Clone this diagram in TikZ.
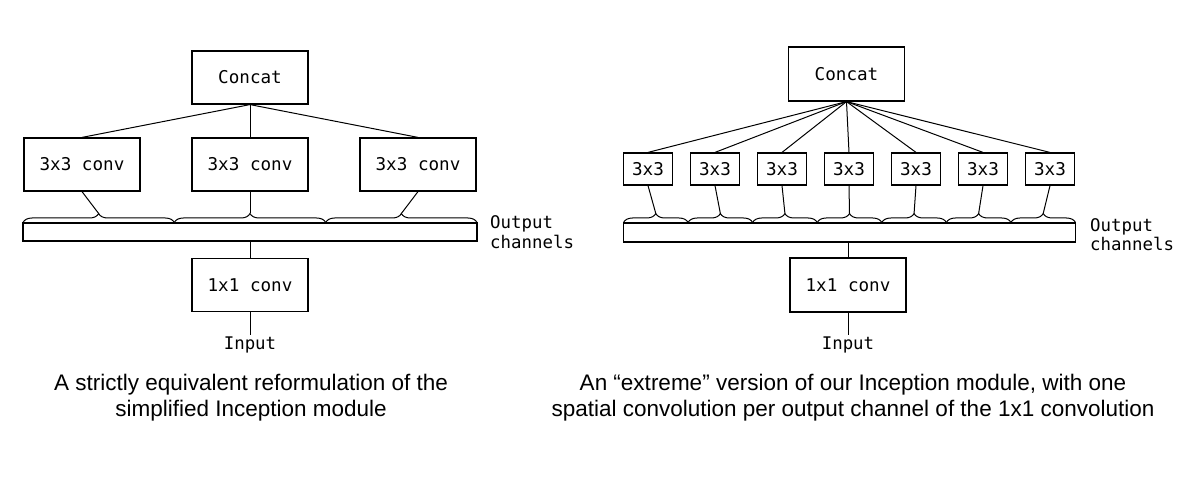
\documentclass[tikz,border=0pt]{standalone}
\usepackage{fontspec}
\setmainfont{Liberation Sans}
\setmonofont{DejaVu Sans Mono}
\usetikzlibrary{positioning,calc,decorations.pathreplacing}

\tikzset{
  box/.style={draw, line width=1.2pt, minimum width=116pt, minimum height=53pt,
    inner sep=0pt, font=\ttfamily\fontsize{17.6}{20}\selectfont},
  smallbox/.style={box, minimum width=49pt, minimum height=32pt},
  bar/.style={draw, line width=1.2pt, minimum height=18pt, inner sep=0pt},
  wire/.style={line width=1pt},
  curly/.style={decorate, decoration={brace, amplitude=9pt}, line width=1pt},
  lbl/.style={font=\ttfamily\fontsize{17.4}{19.5}\selectfont, align=left, inner sep=2pt},
  caption/.style={font=\fontsize{22.5}{26}\selectfont, align=center}
}

\begin{document}
\begin{tikzpicture}[x=1pt,y=-1pt]
  \useasboundingbox (0,0) rectangle (1190,478);
  % Left: equivalent reformulation
  \node[box] (concatL) at (250,77.5) {Concat};
  \foreach \i/\x in {1/82,2/250,3/418}{
    \node[box] (convL\i) at (\x,164.5) {3x3 conv};
    \draw[wire] (concatL.south) -- (convL\i.north);
  }
  \node[bar, minimum width=454pt] (barL) at (250,232) {};
  \foreach \i/\a/\b in {1/23/174.3,2/174.3/325.7,3/325.7/477}{
    \draw[curly] (\a,222.5) -- (\b,222.5);
    \coordinate (tipL\i) at ({(\a+\b)/2},213.5);
    \draw[wire] (convL\i.south) -- (tipL\i);
  }
  \node[lbl, anchor=west] (outL) at (488,232) {Output\\channels};
  \node[box] (pointL) at (250,285) {1x1 conv};
  \node[lbl] (inL) at (250,345) {Input};
  \draw[wire] (barL.south) -- (pointL.north);
  \draw[wire] (pointL.south) -- (inL.north);

  % Right: extreme version
  \node[box, minimum height=54pt] (concatR) at (846.5,74) {Concat};
  \foreach \i in {1,...,7}{
    \node[smallbox] (convR\i) at ({648+67*(\i-1)},169) {3x3};
    \draw[wire] (concatR.south) -- (convR\i.north);
  }
  \node[bar, minimum width=452pt, minimum height=19pt] (barR) at (849.5,232.5) {};
  \foreach \i in {1,...,7}{
    \pgfmathsetmacro{\a}{623.5+64.57*(\i-1)}
    \pgfmathsetmacro{\b}{\a+64.57}
    \draw[curly] (\a,222.5) -- (\b,222.5);
    \coordinate (tipR\i) at ({(\a+\b)/2},213.5);
    \draw[wire] (convR\i.south) -- (tipR\i);
  }
  \node[lbl, anchor=west] (outR) at (1088,234.5) {Output\\channels};
  \node[box, minimum height=54pt] (pointR) at (848,285) {1x1 conv};
  \node[lbl] (inR) at (848,345) {Input};
  \draw[wire] (barR.south -| pointR.north) -- (pointR.north);
  \draw[wire] (pointR.south) -- (inR.north);

  % Captions
  \node[caption] (capL) at (251,398) {A strictly equivalent reformulation of the\\simplified Inception module};
  \node[caption] (capR) at (853,398) {An “extreme” version of our Inception module, with one\\spatial convolution per output channel of the 1x1 convolution};
\end{tikzpicture}
\end{document}
